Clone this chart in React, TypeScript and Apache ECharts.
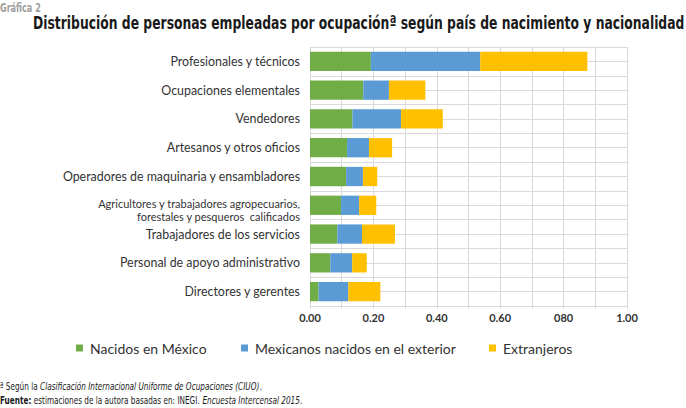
import React, { useEffect, useRef } from "react";
import * as echarts from "echarts";

const categories = [
  "Profesionales y técnicos",
  "Ocupaciones elementales",
  "Vendedores",
  "Artesanos y otros oficios",
  "Operadores de maquinaria y ensambladores",
  "Agricultores y trabajadores agropecuarios,\nforestales y pesqueros  calificados",
  "Trabajadores de los servicios",
  "Personal de apoyo administrativo",
  "Directores y gerentes",
];
const nacidosMexico = [0.192, 0.168, 0.134, 0.117, 0.114, 0.098, 0.086, 0.064, 0.027];
const mexicanosExterior = [0.345, 0.081, 0.153, 0.069, 0.053, 0.057, 0.078, 0.069, 0.094];
const extranjeros = [0.338, 0.115, 0.132, 0.073, 0.045, 0.054, 0.104, 0.046, 0.101];
const xTickLabels = ["0.00", "0.20", "0.40", "0.60", "080", "1.00"];
const seriesNames = ["Nacidos en México", "Mexicanos nacidos en el exterior", "Extranjeros"];
const colors = ["#70AD47", "#5B9BD5", "#FFC000"];
const legendLefts = [76, 241, 489];

const cond = "'DejaVu Sans Condensed', sans-serif";
const labelFont = "Lato, 'Open Sans', sans-serif";

export default function App() {
  const ref = useRef<HTMLDivElement>(null);
  useEffect(() => {
    if (!ref.current) return;
    const chart = echarts.init(ref.current, null, { renderer: "svg" });
    const data = [nacidosMexico, mexicanosExterior, extranjeros];
    chart.setOption({
      animation: false,
      backgroundColor: "#ffffff",
      grid: { left: 310, right: 59, top: 47, bottom: 102, containLabel: false },
      xAxis: {
        type: "value",
        min: 0,
        max: 1,
        interval: 0.2,
        axisLine: { show: false },
        axisTick: { show: true, length: 3, lineStyle: { color: "#d9d9d9" } },
        minorTick: { show: true, splitNumber: 2, length: 3, lineStyle: { color: "#d9d9d9" } },
        splitLine: { show: true, lineStyle: { color: "#d9d9d9", width: 1 } },
        minorSplitLine: { show: true, lineStyle: { color: "#d9d9d9", width: 1 } },
        axisLabel: {
          formatter: (v: number) => xTickLabels[Math.round(v / 0.2)] ?? "",
          color: "#333333",
          fontWeight: "bold",
          fontSize: 11,
          fontFamily: labelFont,
          margin: 6,
        },
      },
      yAxis: [
        {
          type: "category",
          data: categories,
          inverse: true,
          axisLine: { show: false },
          axisTick: { show: false },
          splitLine: { show: false },
          axisLabel: {
            color: "#333333",
            fontSize: 12.4,
            fontFamily: labelFont,
            margin: 10,
            formatter: (v: string) => {
              if (!v.includes("\n")) return v;
              const [a, b] = v.split("\n");
              return `{s1|${a}}\n{s2|${b}}`;
            },
            rich: {
              s1: { fontSize: 11, fontFamily: labelFont, color: "#333333", lineHeight: 22, verticalAlign: "bottom", align: "right" },
              s2: { fontSize: 11, fontFamily: labelFont, color: "#333333", lineHeight: 14, align: "right" },
            },
          },
        },
        {
          type: "value",
          min: 0,
          max: 9,
          interval: 0.5,
          position: "left",
          axisLine: { show: false },
          axisTick: { show: false },
          axisLabel: { show: false },
          splitLine: { show: true, lineStyle: { color: "#d9d9d9", width: 1 } },
        },
      ],
      legend: seriesNames.map((name, i) => ({
        left: legendLefts[i],
        top: 341,
        padding: 0,
        icon: "rect",
        itemWidth: 7,
        itemHeight: 7,
        textStyle: { fontSize: 14, color: "#333333", fontFamily: labelFont, padding: [0, 0, 0, 2] },
        data: [name],
      })),
      series: seriesNames.map((name, i) => ({
        name,
        type: "bar",
        stack: "total",
        yAxisIndex: 0,
        barWidth: "67%",
        itemStyle: { color: colors[i] },
        data: data[i],
      })),
      graphic: [
        {
          type: "text",
          x: 0,
          y: 1,
          scaleX: 0.72,
          style: { text: "Gráfica 2", fontSize: 12.5, fontWeight: "bold", fill: "#a0a0a0", fontFamily: cond, verticalAlign: "top" },
        },
        {
          type: "text",
          x: 33,
          y: 14,
          scaleX: 0.763,
          style: {
            text: "Distribución de personas empleadas por ocupaciónª según país de nacimiento y nacionalidad",
            fontSize: 18,
            fontWeight: "bold",
            fill: "#1a1a1a",
            fontFamily: cond,
            verticalAlign: "top",
          },
        },
        {
          type: "text",
          x: 0,
          y: 381,
          scaleX: 0.74,
          style: {
            verticalAlign: "top",
            text: "{n|ª Según la }{i|Clasificación Internacional Uniforme de Ocupaciones (CIUO)}{n|.}",
            rich: {
              n: { fontSize: 11, fontFamily: cond, fill: "#1a1a1a" },
              i: { fontSize: 11, fontFamily: cond, fontStyle: "italic", fill: "#1a1a1a" },
            },
          },
        },
        {
          type: "text",
          x: 0,
          y: 395,
          scaleX: 0.74,
          style: {
            verticalAlign: "top",
            text: "{b|Fuente:}{n| estimaciones de la autora basadas en: INEGI. }{i|Encuesta Intercensal 2015}{n|.}",
            rich: {
              b: { fontSize: 11, fontFamily: cond, fontWeight: "bold", fill: "#1a1a1a" },
              n: { fontSize: 11, fontFamily: cond, fill: "#1a1a1a" },
              i: { fontSize: 11, fontFamily: cond, fontStyle: "italic", fill: "#1a1a1a" },
            },
          },
        },
      ],
    });
    return () => chart.dispose();
  }, []);
  return <div ref={ref} style={{ position: "absolute", left: 0, top: 0, width: 686, height: 408 }} />;
}
